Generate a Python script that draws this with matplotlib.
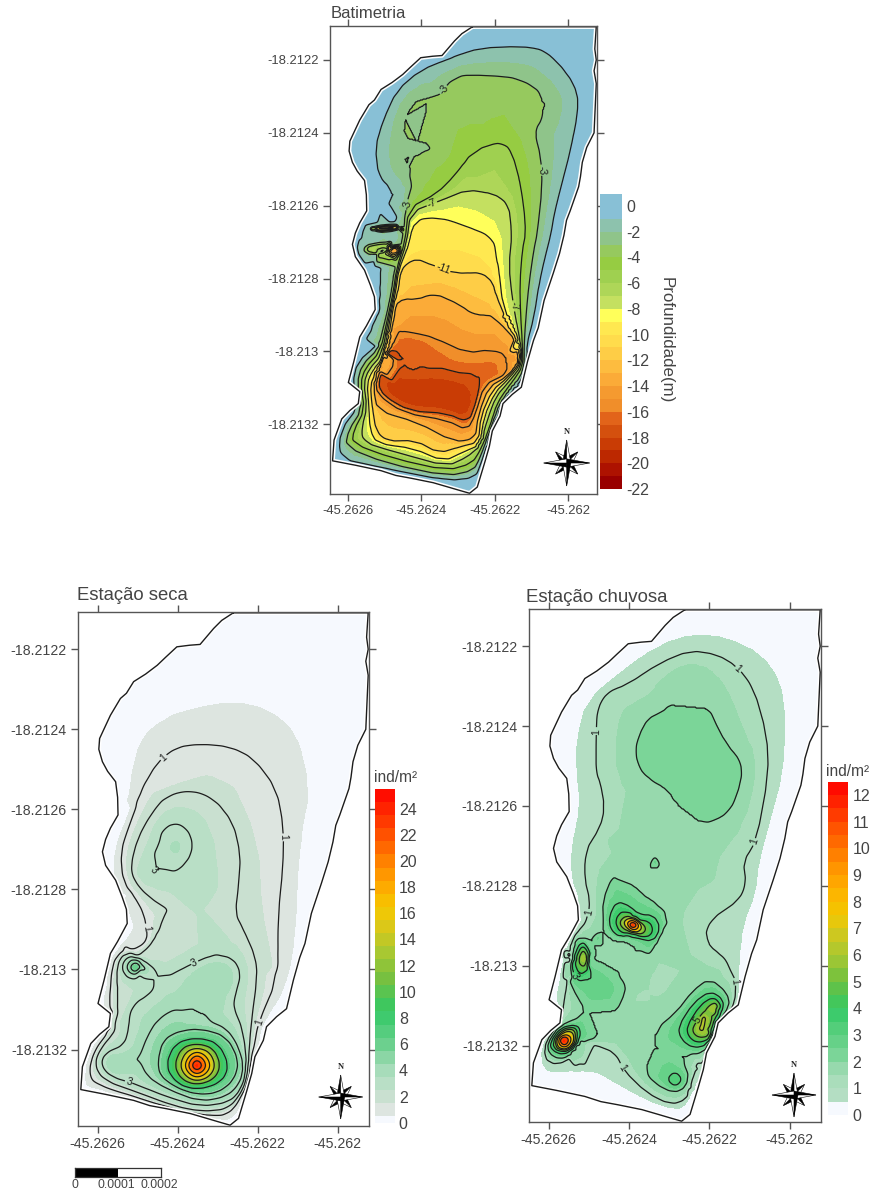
import numpy as np
import matplotlib
matplotlib.use("Agg")
import matplotlib.pyplot as plt
import matplotlib.tri as mtri
from matplotlib.colors import ListedColormap, BoundaryNorm, LinearSegmentedColormap
from matplotlib.cm import ScalarMappable
from matplotlib.patches import Polygon

plt.rcParams['font.family'] = ['Liberation Sans', 'DejaVu Sans']
plt.rcParams['axes.unicode_minus'] = False

W, H = 873, 1194
LON0, LAT0 = -45.2626, -18.2122   # isoline points are in 1e-4 degrees east / south of these
lon_ticks = [-45.2626, -45.2624, -45.2622, -45.262]
lon_labels = ['-45.2626', '-45.2624', '-45.2622', '-45.262']
lat_ticks = [-18.2122, -18.2124, -18.2126, -18.2128, -18.213, -18.2132]
lat_labels = ['-18.2122', '-18.2124', '-18.2126', '-18.2128', '-18.213', '-18.2132']

coast = [(3.39,-.91),(4.22,-.91),(6.76,-.91),(6.72,-.3),(6.76,0),(6.7,.3),(6.76,.65),(6.70,2.0),(6.5,2.4),(6.38,2.81),(6.33,3.2),(6.28,3.48),(6.05,4.14),
 (5.95,4.4),(5.88,4.81),(5.76,5.31),(5.59,5.85),(5.34,6.6),(5.18,7.35),(5.05,7.7),(4.89,8.27),(4.72,8.98),(4.47,9.18),(4.22,9.43),
 (4.14,9.77),(3.93,10.18),(3.85,10.6),(3.73,11.02),(3.52,11.72),(3.31,11.89),(3.0,11.8),(2.73,11.72),(2.32,11.6),(1.73,11.48),
 (1.3,11.4),(.9,11.27),(.2,11.12),(-.42,11.0),(-.38,10.43),(-.17,9.85),(.05,9.62),(.28,9.43),(.32,9.1),(.01,8.85),(.16,8.27),(.32,7.6),(.5,7.3),(.74,6.85),
 (.72,6.5),(.61,6.18),(.45,5.77),(.2,5.4),(.12,5.06),(.2,4.75),(.32,4.47),(.51,4.14),(.5,3.7),(.45,3.31),(.25,3.05),(.12,2.81),(.03,2.5),(.05,2.23),(.18,1.95),(.32,1.65),(.57,1.23),
 (.72,1.1),(.9,.81),(1.2,.62),(1.49,.40),(1.7,.2),(1.98,-.06),(2.3,-.1),(2.56,-.12),(2.90,-.52),(3.1,-.72)]

# ---------- Bathymetry isolines (m) ----------
b_m1 = [(.88,4.22),(1.2,3.85),(1.43,3.72),(1.15,3.49),(.84,3.21),(.75,2.39),(.97,1.65),(1.34,.83),(1.97,.28),(2.88,-.09),
 (3.61,-.32),(4.7,-.37),(5.34,-.28),(5.97,.37),(6.25,.92),(6.25,1.47),(6.06,2.48),(5.79,3.49),(5.61,4.22),(5.52,4.77),
 (5.34,5.48),(5.2,6.12),(5.06,7.04),(4.84,7.86),(4.88,8.14),(4.75,8.73),(4.43,9.06),(4.07,9.61),(3.75,10.61),(3.61,11.07),
 (3.47,11.44),(2.7,11.53),(1.06,11.21),(-.25,10.94),(-.19,10.16),(.29,9.51),(.14,8.87),(.25,8.32),(.79,7.86)]
b_m3 = [(1.59,3.99),(1.77,3.3),(1.47,2.84),(1.43,2.62),(1.9,2.52),(2.3,2.43),(2.3,2.42),(1.9,2.34),(1.43,2.2),(1.47,1.47),(1.88,.92),(2.34,1.19),(2.88,.41),
 (3.79,.41),(4.7,.5),(5.43,1.01),(5.43,1.47),(5.06,1.93),(5.25,2.66),(5.29,3.49),(5.15,4.77),(5.06,5.2),(4.93,6.12),(4.84,7.04),
 (4.79,7.86),(4.79,8.5),(4.56,8.92),(4.15,9.42),(3.84,10.25),(3.61,10.89),(3.43,11.26),(2.7,11.42),(1.06,11.07),(-.07,10.61),
 (.02,10.16),(.38,9.61),(.25,8.87),(.38,8.37),(.84,7.91),(1.06,7.04),(1.2,6.39),(1.29,5.75),(1.5,5.0)]
b_m5 = [(1.65,4.08),(2.43,3.67),(2.88,3.21),(3.43,2.48),(4.29,2.2),(4.61,2.94),(4.79,4.04),(4.84,4.77),(4.75,5.2),(4.68,6.12),
 (4.7,7.04),(4.75,7.77),(4.75,8.41),(4.47,8.83),(4.06,9.42),(3.88,10.06),(3.61,10.71),(3.38,11.07),(2.7,11.26),(1.25,10.94),
 (.11,10.52),(.15,10.16),(.45,9.61),(.34,8.87),(.47,8.46),(.88,8.0),(1.09,7.04),(1.23,6.39),(1.32,5.75),(1.55,5.0)]
b_m7 = [(1.7,4.17),(2.52,3.85),(3.25,3.56),(3.97,3.67),(4.38,3.94),(4.47,4.77),(4.38,5.66),(4.47,6.49),(4.61,7.31),(4.7,7.86),
 (4.75,8.37),(4.38,8.83),(4.02,9.24),(3.79,9.88),(3.56,10.61),(3.25,10.89),(2.7,11.15),(1.43,10.8),(.38,10.48),(.38,10.06),
 (.52,9.51),(.43,8.87),(.56,8.5),(.92,8.09),(1.12,7.04),(1.26,6.39),(1.35,5.75),(1.6,5.0)]
b_m9 = [(1.75,4.36),(2.47,4.31),(3.06,4.5),(3.97,4.86),(4.06,5.5),(4.11,5.75),(4.2,6.76),(4.61,7.77),(4.7,8.32),(4.34,8.78),
 (4.02,9.1),(3.7,9.79),(3.61,10.57),(3.15,10.75),(2.61,11.02),(1.79,10.66),(.79,10.52),(.61,10.16),(.56,9.47),(.52,8.87),
 (.65,8.55),(.97,8.18),(1.15,7.04),(1.29,6.39),(1.38,5.75),(1.65,5.0)]
b_m11 = [(1.61,5.57),(1.84,5.43),(2.38,5.66),(2.88,5.86),(3.7,5.83),(3.97,6.12),(4.06,6.49),(4.34,7.13),(4.68,7.86),(4.68,8.28),
 (4.34,8.73),(3.93,9.06),(3.61,9.79),(3.56,10.48),(3.06,10.61),(2.47,10.8),(1.84,10.45),(1.06,10.48),(.75,10.2),(.65,9.47),
 (.61,8.92),(.75,8.6),(1.02,8.28),(1.19,7.04),(1.33,6.39),(1.41,5.75)]
b_m13 = [(1.29,6.53),(1.88,6.58),(2.34,6.39),(3.06,6.72),(3.52,7.08),(3.79,6.94),(4.15,7.22),(4.61,7.68),(4.65,8.23),(4.34,8.69),
 (3.84,8.96),(3.56,9.7),(3.47,10.43),(2.88,10.48),(1.88,9.93),(.79,9.61),(.7,9.06),(.79,8.69),(1.06,8.32),(1.23,7.04)]
b_m15 = [(1.11,7.4),(1.79,7.5),(2.34,7.63),(3.25,8.05),(3.88,7.95),(4.61,8.18),(4.61,8.37),(4.29,8.64),(3.7,8.92),(3.47,9.7),
 (3.25,10.16),(2.7,9.88),(1.52,9.68),(.79,9.15),(.75,8.78),(1.06,7.95)]
b_m17 = [(1.06,7.95),(1.88,7.68),(1.7,8.14),(1.34,8.37),(1.7,8.64),(2.34,8.41),(3.25,8.64),(4.06,8.55),(3.61,8.83),(3.52,9.33),
 (3.29,9.97),(2.7,9.7),(1.7,9.65),(.97,9.24),(.79,8.87),(.97,8.32)]
b_deep = [(1.1,9.0),(1.5,8.85),(2.3,8.9),(3.0,9.0),(3.3,9.3),(3.15,9.7),(2.5,9.45),(1.6,9.4)]
b_stripe_shallow = [(.47,4.63),(1.06,4.5),(1.61,4.52),(1.06,4.76)]
b_stripe_deep = [(.62,4.64),(.85,4.63),(1.06,4.62),(1.3,4.62),(1.5,4.62)]
b_lobe_shallow = [(.34,5.18),(.61,5.0),(1.52,4.95),(.52,5.46)]
b_lobe_mid = [(.55,5.18),(.8,5.12),(1.06,5.09),(1.06,5.32),(.8,5.3)]
b_lobe_deep = [(1.12,5.12),(1.3,5.15),(1.38,5.28),(1.15,5.3)]
b_shelf = [(.7,4.38),(1.2,4.38),(.7,5.72),(.7,6.2),(.65,7.0),(.55,6.0)]
b_gap = [(.7,4.87),(1.2,4.86)]
b_spike = [(1.6,2.42),(1.85,2.44),(2.1,2.43)]
b_west = [(1.1,2.4)]
b_g10 = [(2.0,5.2),(3.0,5.2),(3.6,5.4)]
b_g12 = [(1.7,6.2),(2.5,6.1),(3.3,6.4)]
b_g14 = [(1.7,7.0),(2.5,7.0),(3.3,7.5),(4.0,7.5)]
b_g4 = [(3.5,1.3),(2.8,2.1),(4.5,1.3),(3.5,2.0)]
b_g6 = [(3.2,3.2),(4.0,3.0),(3.5,3.2)]
b_g8 = [(3.0,4.0),(4.0,4.4)]
b_g16 = [(2.5,8.0),(3.5,8.3)]
b_red = [(1.11,8.05)]
bath_iso = [(-1,b_m1),(-3,b_m3),(-5,b_m5),(-7,b_m7),(-9,b_m9),(-11,b_m11),(-13,b_m13),(-15,b_m15),(-17,b_m17),
            (-18.7,b_deep),(-2,b_stripe_shallow),(-14,b_stripe_deep),(-2,b_lobe_shallow),(-7,b_lobe_mid),(-14,b_lobe_deep),
            (0,b_shelf),(-.8,b_gap),(-2.2,b_spike),(-2,b_west),(-10,b_g10),(-12,b_g12),(-14,b_g14),(-4,b_g4),(-6,b_g6),(-8,b_g8),
            (-16,b_g16),(-19,b_red)]
bath_lines = [-17,-15,-13,-11,-9,-7,-5,-3,-1]
bath_bounds = [-22,-21,-20,-19,-18,-17,-16,-15,-14,-13,-12,-11,-10,-9,-8,-7,-6,-5,-4,-3,-2,-1,0.93]
bath_colors = ['#990000','#ad1200','#bc2800','#c93c05','#d4500e','#e2641a','#f08e2a','#f59a30','#fbab38','#fdbc3f','#fecd46',
 '#ffdc4c','#ffe850','#ffff5a','#c4e060','#aed658','#9fd050','#96cc42','#96c95e','#8fc48a','#8dc2ad','#88c0d6']
bath_cb_ticks = [0,-2,-4,-6,-8,-10,-12,-14,-16,-18,-20,-22]

# ---------- Dry season isolines (ind/m2) ----------
d_half_e = [(.86,3.14),(1.07,2.23),(1.65,1.73),(2.56,1.44),(3.39,1.31),(4.22,1.48),(4.97,2.06),(5.3,3.48),(5.05,4.81),(4.97,5.85),
 (4.97,6.6),(4.85,7.85),(4.64,8.52),(4.22,9.18),(4.06,9.52)]
d_half_w = [(.86,3.97),(.45,4.97),(.41,5.85),(.9,6.85),(.86,7.06),(.41,7.64)]
d_zero = [(2,.4),(3.5,-.4),(5,-.2),(6,.5),(5.7,1.6),(3.5,.2),(1,1.6),(6,3),(.45,2.5),(5.6,4.4),(2.5,.6),(4.5,.6)]
d_1 = [(3.73,10.77),(3.89,9.93),(4.02,9.31),(4.47,8.27),(4.51,6.6),(4.64,5.47),(4.66,4.47),(4.47,3.48),(3.89,2.73),(3.31,2.44),
 (2.56,2.37),(1.98,2.44),(1.49,2.81),(1.07,3.56),(.78,4.39),(.57,5.06),(.66,5.85),(1.07,6.35),(1.24,6.93),(1.28,7.27),(1.07,7.48),
 (.45,7.64),(.32,8.27),(.32,9.52),(-.05,10.02),(-.22,10.52),(-.09,10.85),(.9,11.18),(1.73,11.43),(2.56,11.64),(3.23,11.64),(3.56,11.18)]
d_2 = [(3.52,5.85),(3.44,6.6),(3.64,7.02),(3.93,7.68),(3.98,8.27),(3.85,9.35),(3.73,10.52),(3.64,11.02),(3.31,11.48),(2.56,11.56),
 (1.9,11.43),(1.07,11.1),(.16,10.77),(-.09,10.35),(.07,9.93),(.49,9.43),(.45,8.18),(.57,7.64),(.78,7.53),(1.03,7.73),(1.57,7.56),
 (2.15,7.18),(2.19,6.93),(1.9,6.6),(1.24,6.18),(.9,5.77),(.82,5.39),(.99,4.72),(1.32,4.14),(1.73,3.64),(2.32,3.5),(2.9,3.73),(3.39,4.31),(3.58,5.14)]
d_3a = [(1.07,5.68),(1.73,5.68),(2.23,5.31),(2.38,4.89),(2.23,4.47),(1.82,4.27),(1.61,4.47),(1.53,4.89),(1.28,5.31)]
d_3a_in = [(1.95,4.95)]
d_3b = [(.9,8.77),(1.24,8.68),(1.57,8.27),(2.23,7.93),(2.9,7.64),(3.39,7.73),(3.58,8.1),(3.44,8.6),(3.39,8.93),(3.64,9.52),(3.77,10.52),
 (3.64,10.98),(3.31,11.31),(2.56,11.42),(1.73,11.18),(1.07,10.93),(.32,10.68),(.07,10.39),(.16,10.1),(.66,9.89),(.78,9.43),(.78,9.1)]
d_4a = [(2.48,8.43),(2.56,8.14),(2.98,7.93),(3.27,8.18),(3.1,8.52),(2.65,8.56)]
d_3c = [(.57,7.93),(.78,7.64),(1.07,7.73),(1.44,8.02),(1.24,8.18),(.78,8.23)]
d_4c = [(.7,7.93),(.9,7.68),(1.24,7.93),(1.15,8.1),(.86,8.14)]
d_5c = [(.78,7.95),(.95,7.81),(1.15,7.95),(.95,8.08)]
d_4d = [(.32,10.35),(.43,10.2),(.55,10.37),(.43,10.52)]
d_4 = [(1.03,10.22),(1.24,9.68),(1.49,9.27),(1.98,8.93),(2.36,9.27),(2.98,9.35),(3.39,9.68),(3.68,10.43),(3.56,10.85),(3.23,11.18),
 (2.56,11.31),(1.73,10.98),(1.24,10.68)]
d_5 = [(1.53,10.31),(1.65,9.77),(2.07,9.56),(2.56,9.49),(3.23,9.68),(3.54,10.27),(3.39,10.77),(2.98,11.08),(2.48,11.1),(1.9,10.89),(1.57,10.64)]
d_7 = [(1.7,10.4),(1.95,9.85),(2.48,9.72),(3.0,9.85),(3.27,10.4),(3.1,10.8),(2.48,11.0),(2.0,10.88)]
d_10 = [(1.92,10.4),(2.1,9.95),(2.48,9.85),(2.9,9.97),(3.07,10.4),(2.9,10.75),(2.48,10.88),(2.1,10.75)]
d_13 = [(2.05,10.4),(2.2,10.05),(2.48,9.95),(2.8,10.05),(2.95,10.4),(2.8,10.68),(2.48,10.8),(2.2,10.68)]
d_16 = [(2.17,10.4),(2.3,10.15),(2.48,10.05),(2.7,10.15),(2.83,10.4),(2.7,10.62),(2.48,10.7),(2.3,10.62)]
d_19 = [(2.25,10.4),(2.35,10.2),(2.48,10.13),(2.62,10.2),(2.72,10.4),(2.62,10.56),(2.48,10.62),(2.35,10.56)]
d_22 = [(2.32,10.4),(2.48,10.23),(2.65,10.4),(2.48,10.55)]
d_top = [(2.48,10.39)]
d_west_top = [(.95,7.95)]
d_mid15 = [(1.4,3.6),(3.2,3.0),(4.0,4.8),(4.1,6.5),(4.4,7.9)]
d_mid25 = [(2.9,4.8),(3.1,6.3),(1.3,7.2),(.9,8.7),(.55,9.3)]
dry_iso = [(.5,d_half_e),(.5,d_half_w),(0,d_zero),(1,d_1),(2,d_2),(3,d_3a),(3.7,d_3a_in),(3,d_3b),(4,d_4a),(3,d_3c),(4,d_4c),(5,d_5c),(7,d_west_top),
 (4,d_4d),(4,d_4),(5,d_5),(7,d_7),(10,d_10),(13,d_13),(16,d_16),(19,d_19),(22,d_22),(25.4,d_top),(1.5,d_mid15),(2.5,d_mid25)]
dry_lines = [1,2,3,4,5,7,10,13,16,19,22]
dry_bounds = [0,.5]+[i+.5 for i in range(1,26)]
dry_anchor_v = [.5,1,2,3,4,6,8.5,11,13,15,16.5,18.5,21,23,25.6]
dry_anchor_c = ['#e2e8e4','#dde5e0','#c9e0d0','#b8dfc6','#a6dcb9','#6cd08e','#33c965','#76c040','#a8c832','#dcc818','#f5c800','#ffa200','#ff6a00','#ff3a00','#ff0000']
dry_cb_ticks = list(range(0,25,2))

# ---------- Rainy season isolines (ind/m2) ----------
r_half = [(.7,2.38),(.95,1.38),(1.94,.54),(2.77,-.04),(3.6,-.29),(4.44,-.21),(5.27,.21),(5.76,.88),(5.89,1.88),(5.81,3.22),(5.51,4.3),
 (5.22,5.39),(5.14,6.18),(4.85,6.93),(4.73,7.93),(4.68,9.18),(4.1,10.1),(3.69,10.68),(3.44,11.43),(3.19,11.6),(2.44,11.35),(1.69,10.93),
 (1.11,10.6),(.2,10.64),(-.13,10.6),(-.17,10.02),(.2,9.52),(.32,9.18),(.2,8.77),(.32,8.18),(.61,7.1),(.78,6.35),(.57,5.85),(.57,5.14),(.78,3.97),(.7,3.22)]
r_1 = [(1.18,3.22),(1.18,2.21),(1.2,1.55),(1.45,1.13),(1.94,.96),(2.77,.42),(3.52,.11),(4.19,.21),(4.68,.5),(5.1,1.04),(5.43,2.21),(5.47,3.22),
 (5.18,4.89),(4.85,5.39),(4.93,5.93),(4.77,6.35),(4.02,6.85),(3.88,7.27),(3.94,7.6),(4.35,7.73),(4.56,8.18),(4.68,8.39),(4.64,8.93),(4.35,9.31),
 (4.19,9.52),(3.9,10.27),(3.6,11.02),(3.44,11.35),(3.02,11.48),(2.44,11.18),(1.86,10.6),(1.69,10.18),(1.11,9.93),(.74,9.93),(.61,10.22),(.2,10.48),
 (-.13,10.31),(-.01,9.77),(.28,9.35),(.41,8.77),(.57,7.93),(.53,7.43),(.99,6.8),(1.03,6.35),(.9,5.85),(.9,5.14),(1.28,4.55),(1.4,4.05),(1.28,3.38)]
r_2a = [(2.11,2.63),(2.36,1.96),(2.61,1.71),(3.02,1.63),(3.11,1.04),(3.44,.73),(3.73,.88),(4.1,1.8),(4.44,2.46),(4.81,2.88),(4.81,3.38),(4.52,4.18),
 (3.94,4.43),(3.56,4.51),(3.27,4.34),(3.11,4.05),(3.19,3.72),(2.94,3.43),(2.36,3.3)]
r_2b = [(1.78,5.57),(2.52,5.64),(3.06,5.93),(3.11,6.35),(3.19,7.1),(2.94,7.6),(2.36,7.73),(2.15,7.35),(1.53,7.27),(1.32,6.68),(1.45,6.02)]
r_3b = [(1.5,6.77),(1.69,6.39),(2.03,6.52),(2.19,6.75),(2.61,6.73),(2.79,7.06),(2.61,7.39),(2.15,7.28),(1.78,7.31),(1.53,7.1)]
r_4b = [(1.65,6.85),(1.86,6.6),(2.15,6.85),(2.52,6.89),(2.61,7.14),(2.44,7.31),(2.11,7.18),(1.78,7.18)]
r_5b = [(1.73,6.93),(1.94,6.73),(2.24,6.89),(2.44,7.06),(2.32,7.23),(1.94,7.14)]
r_6b = [(1.83,6.93),(2.07,6.78),(2.35,7.02),(2.15,7.19)]
r_8b = [(1.92,6.93),(2.1,6.84),(2.28,7.02),(2.11,7.13)]
r_10b = [(1.98,6.97),(2.1,6.88),(2.22,6.98),(2.1,7.08)]
r_peak_b = [(2.09,6.98)]
r_2c = [(.45,7.6),(.82,7.22),(1.11,7.6),(.99,7.89),(1.36,8.06),(1.9,8.39),(1.9,8.68),(1.69,9.14),(1.74,9.64),(1.11,9.83),(.78,9.95),(.66,10.22),
 (.28,10.35),(-.01,10.18),(-.03,9.93),(.24,9.52),(.74,9.31),(.99,9.22),(.7,8.77),(.45,8.27),(.41,7.85)]
r_3d = [(.03,9.93),(.28,9.56),(.7,9.48),(.78,9.68),(.7,10.02),(.37,10.23),(.07,10.1)]
r_5d = [(.12,9.92),(.37,9.6),(.66,9.58),(.66,9.93),(.37,10.14)]
r_7d = [(.2,9.89),(.41,9.68),(.6,9.75),(.55,10.0),(.32,10.08)]
r_10d = [(.24,9.88),(.38,9.74),(.53,9.85),(.41,10.02)]
r_peak_d = [(.38,9.88)]
r_3c = [(.57,7.89),(.82,7.35),(1.03,7.64),(.95,8.1),(1.32,8.35),(1.35,8.6),(1.16,8.6),(.95,8.43),(.7,8.35),(.57,8.1)]
r_5c = [(.74,7.81),(.86,7.56),(.99,7.81),(.91,8.06),(.78,8.02)]
r_peak_c = [(.86,7.81)]
r_2e = [(2.57,9.68),(3.19,9.18),(3.6,8.64),(4.02,8.33),(4.44,8.68),(4.52,9.02),(4.19,9.43),(4.19,9.77),(3.98,10.1),(3.6,10.23),(2.94,10.1),(2.65,9.85)]
r_3e = [(3.23,9.52),(3.6,8.93),(4.02,8.64),(4.35,8.85),(4.31,9.18),(4.1,9.6),(3.98,9.97),(3.6,10.06),(3.31,9.85)]
r_4e = [(3.44,9.52),(3.77,8.98),(4.1,8.77),(4.27,8.98),(4.06,9.52),(3.98,9.85),(3.69,9.93),(3.48,9.77)]
r_5e = [(3.65,9.43),(3.98,9.02),(4.19,8.9),(4.23,9.06),(4.02,9.43),(4.02,9.77),(3.73,9.81),(3.56,9.64)]
r_peak_e = [(3.81,9.56),(4.06,9.06),(3.85,9.3)]
r_2f = [(2.23,10.27),(2.86,10.14),(3.11,10.23),(3.48,10.6),(3.44,11.02),(3.11,11.18),(2.61,10.93),(2.32,10.52)]
r_3f = [(2.94,10.85),(3.15,10.64),(3.34,10.85),(3.15,11.04)]
r_peak_f = [(3.15,10.83)]
r_low = [(2.94,8.35),(2.44,8.68),(3.5,8.0),(2.2,8.9)]
r_top_a = [(3.02,2.34),(4.06,3.3)]
r_mid = [(3.9,6.0),(2.0,4.5),(1.4,5.0),(3.7,7.3),(2.7,9.2),(2.3,8.1),(4.2,5.0)]
r_tri_ring = [(2.56,5.47),(2.65,5.31),(2.74,5.47)]
r_tri_top = [(2.65,5.41)]
r_loop_ring = [(1.15,7.31),(1.22,7.18),(1.29,7.31),(1.22,7.44)]
r_loop_top = [(1.22,7.31)]
rain_iso = [(.5,r_half),(1,r_1),(2,r_2a),(2,r_2b),(3,r_3b),(4,r_4b),(5,r_5b),(6,r_6b),(8,r_8b),(10,r_10b),(12,r_peak_b),(2,r_2c),(3,r_3d),(5,r_5d),(7,r_7d),
 (10,r_10d),(12.5,r_peak_d),(3,r_3c),(5,r_5c),(6,r_peak_c),(2,r_2e),(3,r_3e),(4,r_4e),(5,r_5e),(6.4,r_peak_e),(2,r_2f),(3,r_3f),(3.6,r_peak_f),
 (1.2,r_low),(2.5,r_top_a),(1.6,r_mid),(2,r_tri_ring),(3.2,r_tri_top),(2,r_loop_ring),(3.2,r_loop_top)]
rain_lines = [1,2,3,4,5,6,8,10]
rain_bounds = [i*.5 for i in range(0,26)]
rain_anchor_v = [.5,1.5,2,3,4,5,6,7,7.5,8.5,9.5,10.5,12.5]
rain_anchor_c = ['#b8dfc6','#a5dcb8','#85d6a0','#5cd080','#33c965','#6ec040','#a8c832','#d9c81a','#f2c800','#ffb000','#ff8c00','#ff6000','#ff0000']
rain_cb_ticks = list(range(0,13))

bath_labels = [(2.56,.78),(5.25,3.03),(2.27,3.9),(4.56,6.76),(2.59,5.75),(1.5,3.95)]
dry_labels = [(1.63,2.71),(4.64,4.68),(1.24,6.97),(4.02,9.31),(1.2,5.43),(2.42,7.85),(.8,10.79)]
rain_labels = [(1.2,2.15),(4.73,.53),(5.12,4.89),(1.02,6.68),(4.62,8.39),(1.8,10.58),(.66,8.25),(3.7,9.35)]

# ---------- helpers ----------
def lon(x): return LON0 + np.asarray(x)*1e-4
def lat(y): return LAT0 - np.asarray(y)*1e-4

def axpx(l, t, r, b, **kw):
    return fig.add_axes([l/W, 1-b/H, (r-l)/W, (b-t)/H], **kw)

def chaikin(p, closed, it=1):
    for _ in range(it):
        if closed:
            q = np.roll(p, -1, axis=0)
            m = np.empty((2*len(p), 2)); m[0::2] = .75*p+.25*q; m[1::2] = .25*p+.75*q
            p = m
        else:
            a, b = p[:-1], p[1:]
            m = np.empty((2*len(a), 2)); m[0::2] = .75*a+.25*b; m[1::2] = .25*a+.75*b
            p = np.vstack([p[:1], m, p[-1:]])
    return p

def build_points(iso, coast_val):
    pts, vals = [], []
    for level, line in iso:
        p = np.array(line, float)
        if len(p) > 3 and level != 0:
            closed = np.hypot(*(p[0]-p[-1])) < 1.5
            s = chaikin(p, closed)
            s = np.vstack([s, s[:1]]) if closed else s
            for a, b in zip(s[:-1], s[1:]):
                n = max(1, int(np.hypot(*(b-a))/.1))
                for k in range(n):
                    pts.append(a+(b-a)*k/n); vals.append(level)
            if not closed:
                pts.append(s[-1]); vals.append(level)
        else:
            for q in p:
                pts.append(q); vals.append(level)
    cc = np.array(coast, float)
    for c in cc:
        pts.append(c); vals.append(coast_val)
    # wide frame of points so the triangulation covers every grid node
    for c in [(-1.5,-2),(8,-2),(8,13),(-1.5,13),(3,-2),(8,5),(3,13),(-1.5,5)]:
        pts.append(np.array(c, float)); vals.append(coast_val)
    return np.array(pts), np.array(vals, float)

def blur(Z, sigma):
    r = int(3*sigma)
    k = np.exp(-.5*(np.arange(-r, r+1)/sigma)**2); k /= k.sum()
    Z = np.apply_along_axis(lambda m: np.convolve(np.pad(m, r, mode='edge'), k, mode='valid'), 0, Z)
    Z = np.apply_along_axis(lambda m: np.convolve(np.pad(m, r, mode='edge'), k, mode='valid'), 1, Z)
    return Z

def surface(iso, coast_val, lo, hi, sigma):
    P, v = build_points(iso, coast_val)
    tri = mtri.Triangulation(P[:, 0], P[:, 1])
    interp = mtri.LinearTriInterpolator(tri, v)
    gx = np.arange(-.6, 6.9, .025); gy = np.arange(-1.0, 12.0, .025)
    X, Y = np.meshgrid(gx, gy)
    Z = np.ma.filled(interp(X, Y), coast_val)
    Z = blur(Z, sigma)
    return gx, gy, np.clip(Z, lo, hi)

def compass(cx, cy, r):
    ax = axpx(cx-r-8, cy-r-14, cx+r+8, cy+r+3)
    ax.set_xlim(cx-r-8, cx+r+8); ax.set_ylim(cy+r+3, cy-r-14); ax.axis('off')
    for ang, R, s in [(45,r*.68,r*.24),(135,r*.68,r*.24),(225,r*.68,r*.24),(315,r*.68,r*.24),(0,r,r*.18),(90,r,r*.18),(180,r,r*.18),(270,r,r*.18)]:
        a = np.deg2rad(ang)
        u = np.array([np.sin(a), -np.cos(a)]); n = np.array([u[1], -u[0]])
        c = np.array([cx, cy])
        ax.add_patch(Polygon([c, c+u*R, c+n*s], fc='black', ec='black', lw=.4, zorder=3))
        ax.add_patch(Polygon([c, c+u*R, c-n*s], fc='white', ec='black', lw=.4, zorder=3))
    ax.text(cx, cy-r-8, 'N', ha='center', va='center', fontsize=6, family='Liberation Serif', fontweight='bold', color='#222')

def panel(box, iso, coast_val, bounds, colors, lines, label_pts, title, tfs, tx, ty, fs, sigma):
    ax = axpx(*box)
    gx, gy, Z = surface(iso, coast_val, bounds[0], bounds[-1], sigma)
    cmap = ListedColormap(colors); norm = BoundaryNorm(bounds, cmap.N)
    LX, LY = lon(gx), lat(gy)
    cf = ax.contourf(LX, LY, Z, levels=bounds, cmap=cmap, norm=norm)
    cl = ax.contour(LX, LY, Z, levels=lines, colors='#1c1c1c', linewidths=.9, linestyles='solid')
    cx, cy = zip(*coast)
    poly = Polygon(np.c_[lon(cx), lat(cy)], closed=True, transform=ax.transData, fc='none', ec='none')
    ax.add_patch(poly)
    cf.set_clip_path(poly); cl.set_clip_path(poly)
    ax.set_xlim(lon(-.49), lon(6.78)); ax.set_ylim(lat(11.91), lat(-.93))
    ax.clabel(cl, fmt='%d', fontsize=7.5, manual=[(float(lon(a)), float(lat(b))) for a, b in label_pts], inline=True, inline_spacing=1)
    xs = np.r_[cx, cx[0]]; ys = np.r_[cy, cy[0]]
    ax.plot(lon(xs), lat(ys), color='white', lw=3.2, zorder=4, solid_joinstyle='round')
    ax.plot(lon(xs), lat(ys), color='#1c1c1c', lw=1.0, zorder=5, solid_joinstyle='round')
    ax.set_xticks(lon_ticks, lon_labels); ax.set_yticks(lat_ticks, lat_labels)
    ax.tick_params(top=True, right=True, direction='out', length=5, width=1, color='#555555', labelcolor='#444444', labelsize=fs, pad=3)
    for sp in ax.spines.values():
        sp.set_color('#555555'); sp.set_linewidth(1.0)
        sp.set_zorder(6)
    fig.text(tx/W, 1-ty/H, title, fontsize=tfs, color='#444444', ha='left', va='baseline')
    return cmap, norm

def colorbar(l, t, r, b, cmap, norm, ticks, labelsize=11.5):
    cax = axpx(l, t, r, b)
    cb = fig.colorbar(ScalarMappable(norm=norm, cmap=cmap), cax=cax, spacing='proportional', ticks=ticks)
    cb.ax.set_yticklabels([str(t_) for t_ in ticks])
    cb.minorticks_off()
    cb.ax.tick_params(length=0, labelsize=labelsize, labelcolor='#444444', pad=3)
    cb.outline.set_visible(False)
    return cb

def band_colors(bounds, anchor_v, anchor_c, first):
    vmin, vmax = anchor_v[0], anchor_v[-1]
    cm = LinearSegmentedColormap.from_list('c', [((v-vmin)/(vmax-vmin), c) for v, c in zip(anchor_v, anchor_c)])
    out = [first]
    for a, b in zip(bounds[1:-1], bounds[2:]):
        out.append(cm(((a+b)/2-vmin)/(vmax-vmin)))
    return out

fig = plt.figure(figsize=(W/100, H/100), dpi=100)

# Bathymetry
cm1, nm1 = panel((330,26,597,494), bath_iso, 0, bath_bounds, bath_colors, bath_lines, bath_labels, 'Batimetria', 12, 331, 18, 9.4, 1.0)
colorbar(600, 194, 622, 489, cm1, nm1, bath_cb_ticks)
fig.text(666/W, 1-340/H, 'Profundidade(m)', rotation=270, ha='center', va='center', fontsize=12.2, color='#444444')
compass(566.7, 463, 23)

# Dry season
dry_colors = band_colors(dry_bounds, dry_anchor_v, dry_anchor_c, '#f6f9fe')
cm2, nm2 = panel((78,612,369,1126), dry_iso, 0, dry_bounds, dry_colors, dry_lines, dry_labels, 'Estação seca', 13.3, 77, 600, 10.2, 2.0)
colorbar(374.7, 789, 394.7, 1122.7, cm2, nm2, dry_cb_ticks)
fig.text(374/W, 1-777/H, 'ind/m²', fontsize=11.2, color='#444444', ha='left', va='center')
compass(340.7, 1097, 22)

# Rainy season
rain_colors = band_colors(rain_bounds, rain_anchor_v, rain_anchor_c, '#f6f9fe')
cm3, nm3 = panel((529,609,821,1122), rain_iso, 0, rain_bounds, rain_colors, rain_lines, rain_labels, 'Estação chuvosa', 13.4, 526, 602, 10.2, 1.2)
colorbar(828.3, 781.7, 848.3, 1115, cm3, nm3, rain_cb_ticks)
fig.text(826/W, 1-771/H, 'ind/m²', fontsize=11.2, color='#444444', ha='left', va='center')
compass(794, 1095, 22)

# Scale bar
sb = axpx(75, 1168, 160.7, 1177)
sb.set_xlim(0, .0002); sb.set_ylim(0, 1)
sb.barh(.5, .0001, height=1, left=0, color='black')
sb.barh(.5, .0001, height=1, left=.0001, color='white')
sb.set_xticks([]); sb.set_yticks([])
for sp in sb.spines.values():
    sp.set_color('#333333'); sp.set_linewidth(.9)
for txt, x_ in [('0', 75), ('0.0001', 116.6), ('0.0002', 159)]:
    fig.text(x_/W, 1-1185/H, txt, fontsize=8.7, color='#444444', ha='center', va='center')

fig.savefig('out.png', dpi=100)
